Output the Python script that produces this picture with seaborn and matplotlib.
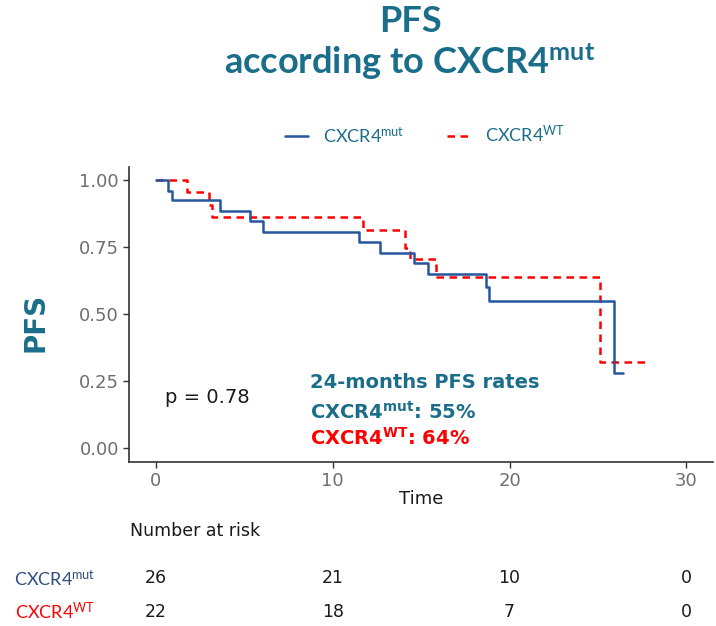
import matplotlib
matplotlib.use("Agg")
import matplotlib.pyplot as plt
import matplotlib.transforms as mtransforms
from matplotlib.lines import Line2D
import seaborn as sns
import pandas as pd

# ---- data ----
mut_time = [0, 0.7, 0.9, 3.65, 5.35, 6.05, 11.5, 12.65, 14.6, 15.4, 18.65, 18.85, 25.9, 26.4]
mut_surv = [1.0, 0.960, 0.926, 0.887, 0.848, 0.808, 0.771, 0.730, 0.691, 0.649, 0.603, 0.551, 0.281, 0.281]
wt_time = [0, 1.74, 3.0, 3.15, 11.7, 14.08, 14.36, 15.83, 25.1, 27.96]
wt_surv = [1.0, 0.955, 0.909, 0.864, 0.815, 0.746, 0.705, 0.640, 0.321, 0.321]

risk_times = [0, 10, 20, 30]
risk_mut = [26, 21, 10, 0]
risk_wt = [22, 18, 7, 0]

x_ticks = [0, 10, 20, 30]
y_ticks = [0.0, 0.25, 0.5, 0.75, 1.0]
y_ticklabels = ["0.00", "0.25", "0.50", "0.75", "1.00"]

p_text = "p = 0.78"
rate_mut = "55%"
rate_wt = "64%"

TEAL = "#1a6e8a"
BLUE = "#2556a0"
RED = "#ff0000"
GREY = "#6e6e6e"

sns.set_style("ticks")
plt.rcParams["font.family"] = ["DejaVu Sans"]
plt.rcParams["mathtext.default"] = "regular"

df = pd.concat([
    pd.DataFrame({"time": mut_time, "surv": mut_surv, "group": "mut"}),
    pd.DataFrame({"time": wt_time, "surv": wt_surv, "group": "wt"}),
], ignore_index=True)

fig = plt.figure(figsize=(7.16, 6.26), dpi=100)
ax = fig.add_axes([0.1806, 0.2625, 0.8152, 0.4707])

sns.lineplot(data=df[df.group == "wt"], x="time", y="surv", ax=ax, color=RED,
             estimator=None, sort=False, drawstyle="steps-post", linewidth=1.8,
             linestyle=(0, (3, 2.2)))
sns.lineplot(data=df[df.group == "mut"], x="time", y="surv", ax=ax, color=BLUE,
             estimator=None, sort=False, drawstyle="steps-post", linewidth=1.8)

ax.set_xlim(-1.5, 31.5)
ax.set_ylim(-0.05, 1.05)
ax.set_xticks(x_ticks)
ax.set_yticks(y_ticks)
ax.set_yticklabels(y_ticklabels)
ax.tick_params(axis="both", colors="#333333", labelcolor=GREY, labelsize=13,
               length=4, width=1)
sns.despine(ax=ax)
for s in ["left", "bottom"]:
    ax.spines[s].set_color("#333333")
    ax.spines[s].set_linewidth(1.2)

ax.set_xlabel("Time", fontsize=13, color="#1a1a1a", labelpad=0)
ax.set_ylabel("")
fig.text(35 / 716, 1 - 322 / 626, "PFS", rotation=90, fontsize=20, fontweight="bold",
         color=TEAL, ha="center", va="center")

# annotations inside plot
ax.text(0.5, 0.19, p_text, fontsize=14, color="#1a1a1a", va="center", ha="left")
ax.text(8.7, 0.244, "24-months PFS rates", fontsize=14, fontweight="bold", color=TEAL,
        va="center", ha="left")
ax.text(8.7, 0.135, r"CXCR4$^{mut}$: " + rate_mut, fontsize=14, fontweight="bold",
        color=TEAL, va="center", ha="left")
ax.text(8.7, 0.038, r"CXCR4$^{WT}$: " + rate_wt, fontsize=14, fontweight="bold",
        color=RED, va="center", ha="left")

# title
fig.text(410 / 716, 1 - 21 / 626, "PFS", fontsize=26, fontweight="bold", color=TEAL,
         ha="center", va="center", family="Lato")
fig.text(410 / 716, 1 - 62 / 626, r"according to CXCR4$^{mut}$", fontsize=26,
         fontweight="bold", color=TEAL, ha="center", va="center", family="Lato")

# legend
handles = [Line2D([], [], color=BLUE, linewidth=1.8),
           Line2D([], [], color=RED, linewidth=1.8, linestyle=(0, (3, 2.2)))]
labels = [r"CXCR4$^{mut}$", r"CXCR4$^{WT}$"]
leg = fig.legend(handles, labels, loc="center", bbox_to_anchor=(425 / 716, 1 - 135 / 626),
                 ncol=2, frameon=False, handlelength=1.3, columnspacing=2.4,
                 prop={"family": "Lato", "size": 13})
for t in leg.get_texts():
    t.set_color(TEAL)

# number at risk table
trans = mtransforms.blended_transform_factory(ax.transData, fig.transFigure)
fig.text(130 / 716, 1 - 531 / 626, "Number at risk", fontsize=12.5, color="#1a1a1a",
         ha="left", va="center")
fig.text(55 / 716, 1 - 578 / 626, r"CXCR4$^{mut}$", fontsize=13, color="#2b4f7e",
         ha="center", va="center", family="Lato")
fig.text(55 / 716, 1 - 612 / 626, r"CXCR4$^{WT}$", fontsize=13, color=RED,
         ha="center", va="center", family="Lato")
for t, n1, n2 in zip(risk_times, risk_mut, risk_wt):
    ax.text(t, 1 - 578 / 626, str(n1), transform=trans, fontsize=12.5, color="#1a1a1a",
            ha="center", va="center", clip_on=False)
    ax.text(t, 1 - 612 / 626, str(n2), transform=trans, fontsize=12.5, color="#1a1a1a",
            ha="center", va="center", clip_on=False)

fig.savefig("out.png", dpi=100)
